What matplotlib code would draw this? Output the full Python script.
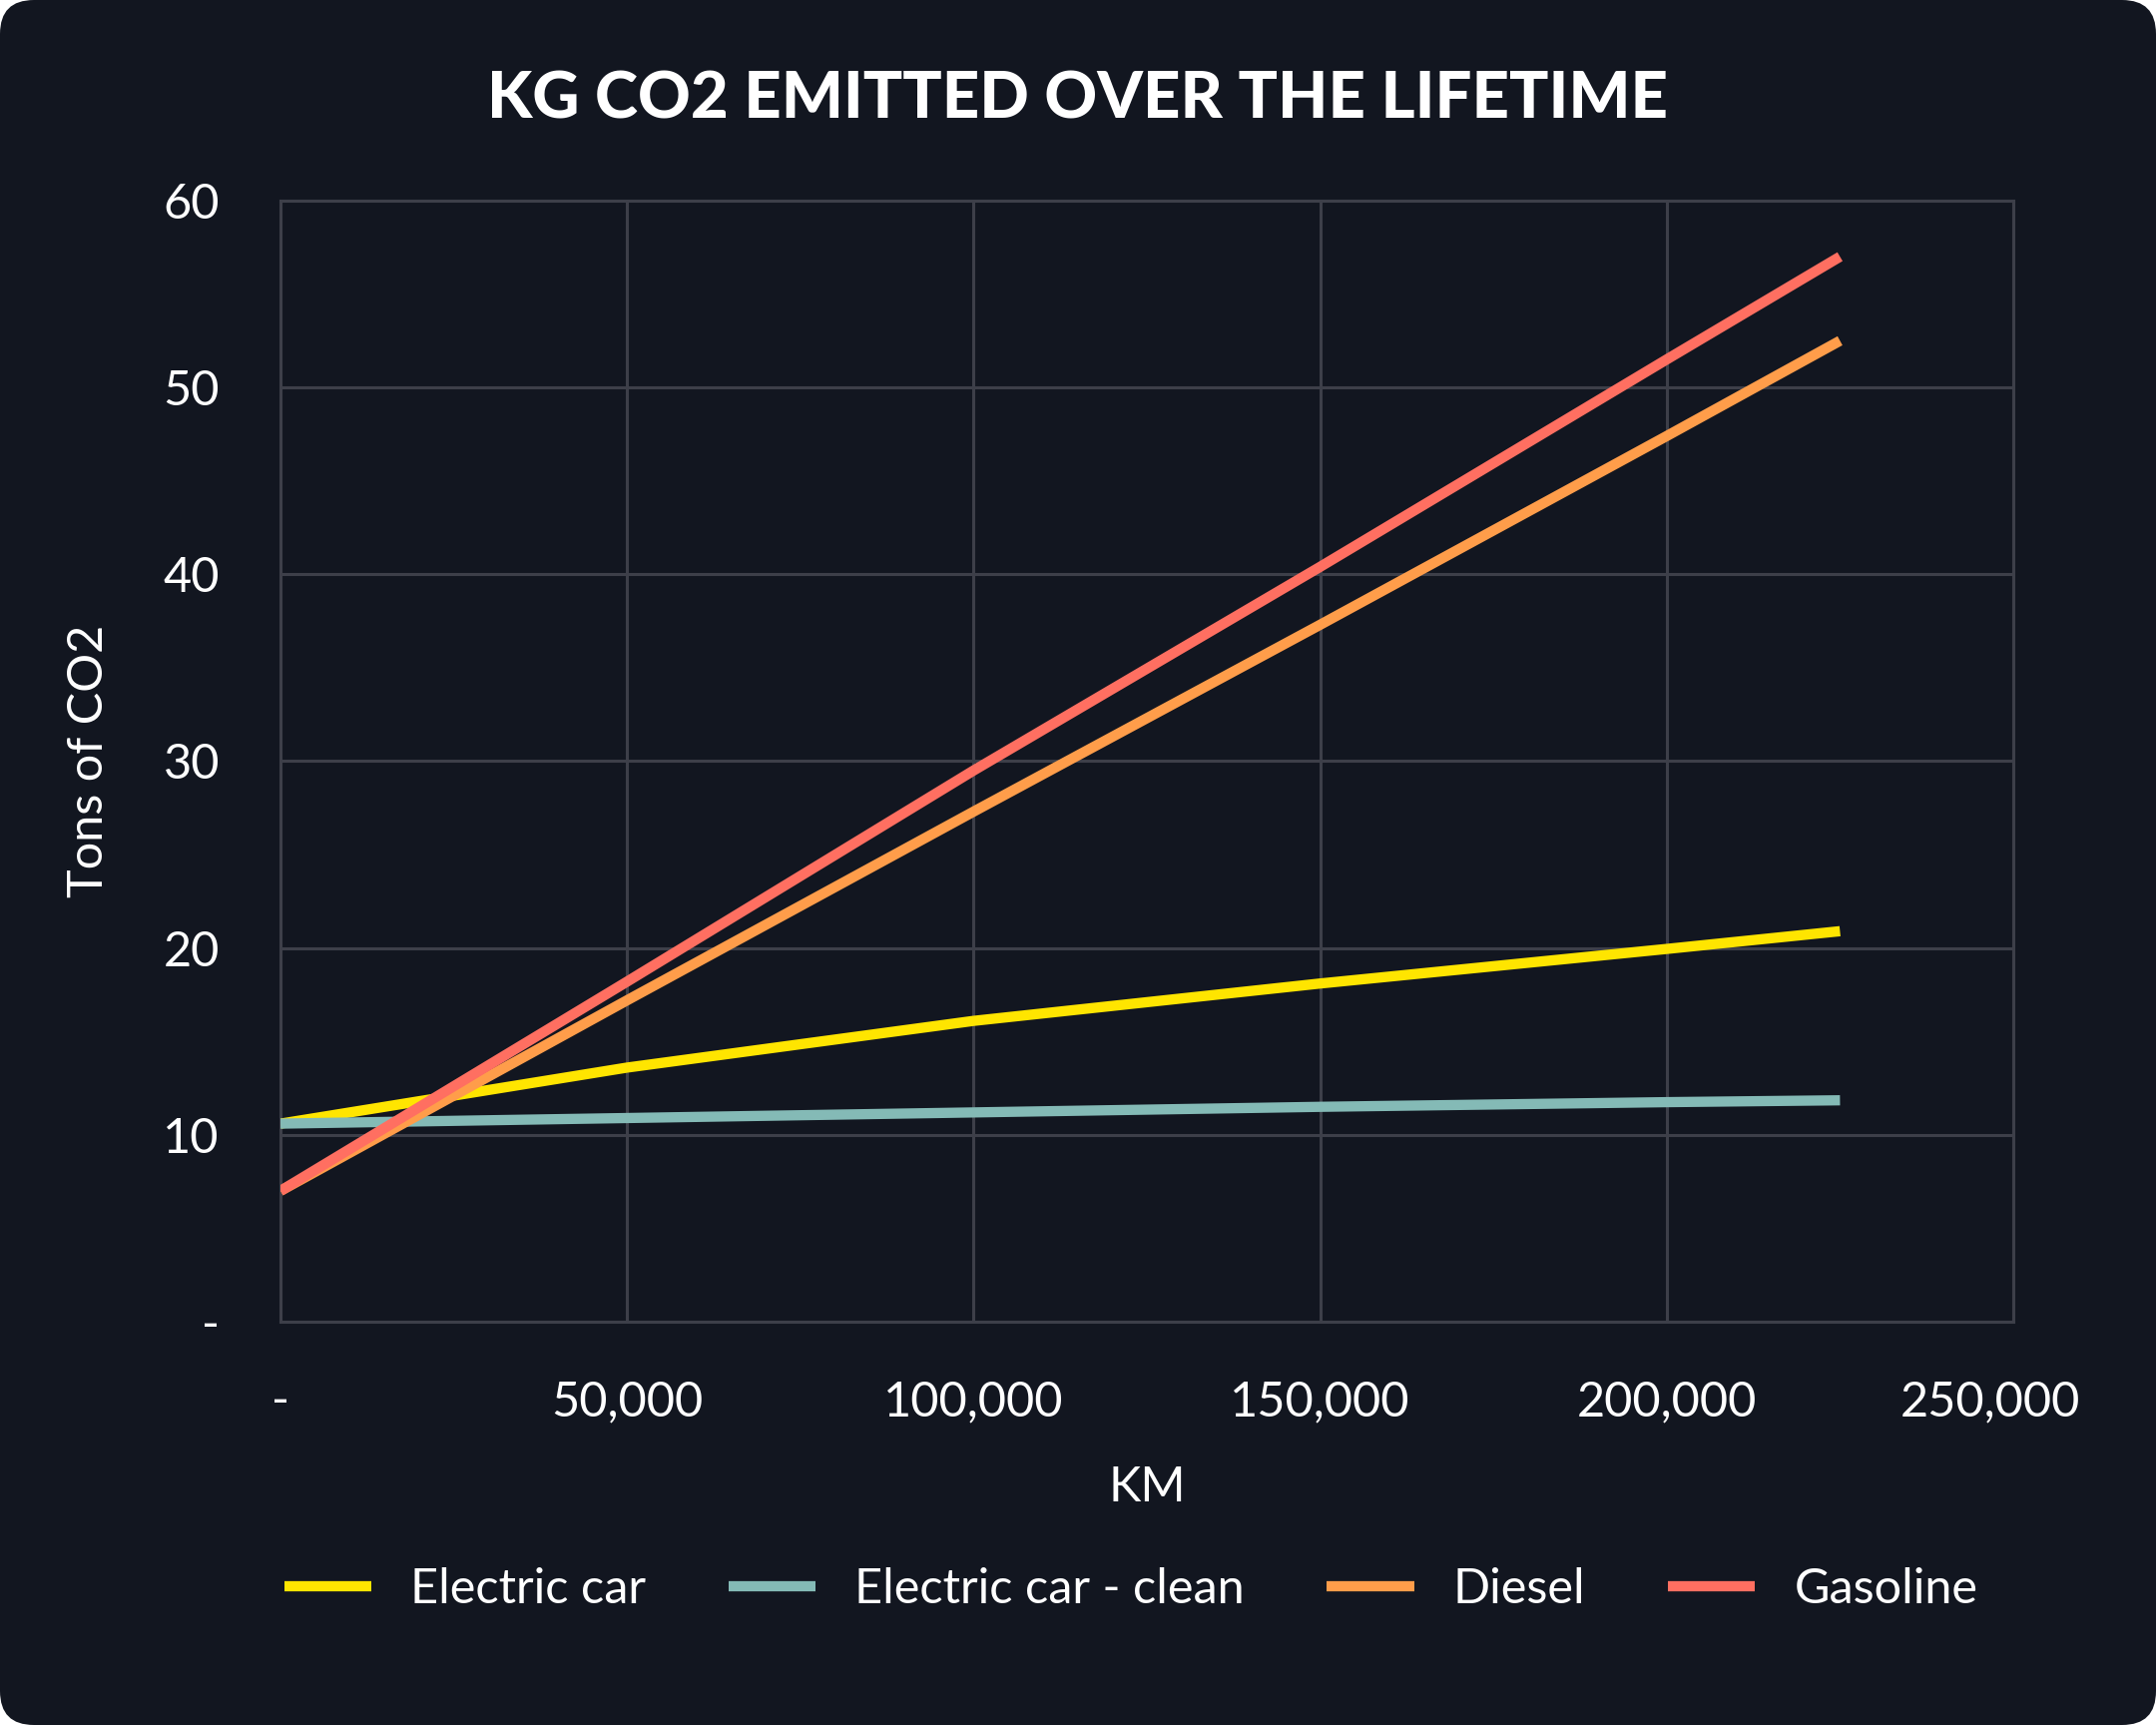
import matplotlib
matplotlib.use("Agg")
import matplotlib.pyplot as plt
from matplotlib.patches import FancyBboxPatch
from matplotlib.ticker import FuncFormatter
import matplotlib.transforms as mtransforms

# ---- data ----
km = [0, 50000, 100000, 150000, 200000, 225000]
electric_car = [10.6, 13.6, 16.1, 18.1, 19.95, 20.9]
electric_clean = [10.6, 10.9, 11.2, 11.5, 11.75, 11.85]
diesel = [7.0, 17.2, 27.3, 37.3, 47.4, 52.5]
gasoline = [7.0, 18.2, 29.5, 40.4, 51.5, 57.0]
series_names = ["Electric car", "Electric car - clean", "Diesel", "Gasoline"]
colors = ["#FFE500", "#84BAB6", "#FF9D4A", "#FF6F61"]
x_ticks = [0, 50000, 100000, 150000, 200000, 250000]
y_ticks = [0, 10, 20, 30, 40, 50, 60]
title = "KG CO2 EMITTED OVER THE LIFETIME"

BG = "#121620"
GRID = "#3D3F49"
FONT = ["Lato", "DejaVu Sans"]
FS = 17.5

plt.rcParams["font.family"] = FONT

DPI = 200
fig = plt.figure(figsize=(10.8, 8.64), dpi=DPI)
fig.patch.set_facecolor("white")
bg = FancyBboxPatch((0, 0), 10.8, 8.64, boxstyle="round,pad=0,rounding_size=0.17",
                    transform=fig.dpi_scale_trans, facecolor=BG, edgecolor="none", zorder=-10)
fig.add_artist(bg)

ax = fig.add_axes([0.1301, 0.2338, 0.8037, 0.6499])
ax.set_facecolor(BG)

series = [electric_car, electric_clean, diesel, gasoline]
handles = []
for name, vals, c in zip(series_names, series, colors):
    h, = ax.plot(km, vals, color=c, lw=3.7, solid_capstyle="butt",
                 solid_joinstyle="round", label=name, zorder=3)
    handles.append(h)
handles[3].set_zorder(4)

ax.set_xlim(0, 250000)
ax.set_ylim(0, 60)
ax.set_xticks(x_ticks)
ax.set_yticks(y_ticks)
ax.xaxis.set_major_formatter(FuncFormatter(lambda v, p: "-" if v == 0 else f"{int(v):,}"))
ax.yaxis.set_major_formatter(FuncFormatter(lambda v, p: "-" if v == 0 else f"{int(v)}"))
ax.grid(True, color=GRID, lw=1.1, zorder=0)
for s in ax.spines.values():
    s.set_color(GRID)
    s.set_linewidth(1.1)
ax.tick_params(axis="both", length=0, colors="white", labelsize=FS)
ax.tick_params(axis="x", pad=21)
ax.tick_params(axis="y", pad=22)

# shift last x label slightly left
lbls = ax.get_xticklabels()
off = mtransforms.ScaledTranslation(-23 / DPI, 0, fig.dpi_scale_trans)
lbls[-1].set_transform(lbls[-1].get_transform() + off)

ax.set_xlabel("KM", color="white", fontsize=FS, labelpad=15)
ax.set_ylabel("Tons of CO2", color="white", fontsize=FS, labelpad=19)

fig.text(0.5, 1 - 100 / 1728, title, ha="center", va="center", color="white",
         fontsize=23.5, fontweight="black", family=FONT)

leg = fig.legend(handles=handles, labels=series_names, loc="center",
                 bbox_to_anchor=(1133 / 2160, 1 - 1592 / 1728), ncol=4,
                 frameon=False, fontsize=FS, handlelength=1.8, handletextpad=0.8,
                 columnspacing=1.7, labelcolor="white")

fig.savefig("out.png", dpi=DPI, facecolor=fig.get_facecolor())
